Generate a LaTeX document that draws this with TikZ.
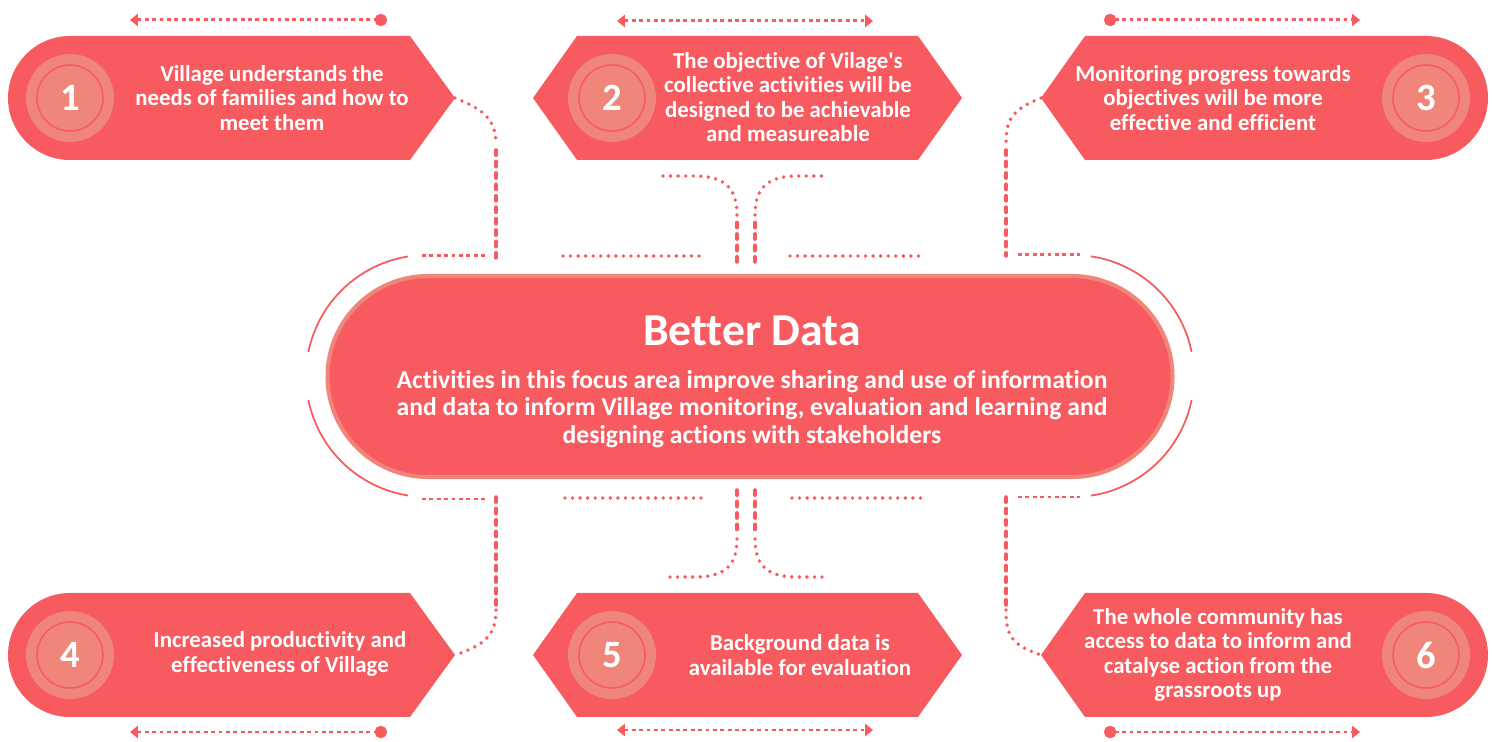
\documentclass[tikz,border=0pt]{standalone}
\usepackage{fontspec}
\setmainfont[Ligatures={NoCommon,TeXOff}]{Carlito}
\usetikzlibrary{arrows.meta}
\definecolor{boxred}{HTML}{F75A5F}
\definecolor{ringlight}{HTML}{F0867A}

\begin{document}
\begin{tikzpicture}[x=0.02cm,y=-0.02cm,
    txt/.style={text=white,font=\bfseries\fontsize{13}{14}\selectfont,align=center,inner sep=0pt},
    num/.style={text=white,font=\bfseries\fontsize{22}{22}\selectfont,inner sep=0pt},
    sqdots/.style={boxred,line width=1.7pt,dash pattern=on 2.2pt off 2pt},
    rnddots/.style={boxred,line width=2.2pt,line cap=round,dash pattern=on 0pt off 4.3pt},
    dashes/.style={boxred,line width=2pt,line cap=round,dash pattern=on 3pt off 3.5pt},
    toleft/.style={sqdots,{Triangle[length=4.5pt,width=7pt]}-{Circle[length=7pt]}},
    toright/.style={sqdots,{Circle[length=7pt]}-{Triangle[length=4.5pt,width=7pt]}},
    both/.style={sqdots,{Triangle[length=4.5pt,width=7pt]}-{Triangle[length=4.5pt,width=7pt]}},
    halo/.style={boxred,line width=1pt}]
\useasboundingbox (0,0) rectangle (1492,742);

% outcome boxes
\fill[boxred] (70,36) -- (410,36) -- (455,98) -- (410,160) -- (70,160) arc[start angle=90,end angle=270,radius=62] -- cycle;
\fill[boxred] (533,98) -- (577,36) -- (918,36) -- (962,98) -- (918,160) -- (577,160) -- cycle;
\fill[boxred] (1041,98) -- (1085,36) -- (1426,36) arc[start angle=270,end angle=450,radius=62] -- (1085,160) -- cycle;
\fill[boxred] (70,593) -- (410,593) -- (455,655) -- (410,717) -- (70,717) arc[start angle=90,end angle=270,radius=62] -- cycle;
\fill[boxred] (533,655) -- (577,593) -- (918,593) -- (962,655) -- (918,717) -- (577,717) -- cycle;
\fill[boxred] (1041,655) -- (1085,593) -- (1426,593) arc[start angle=270,end angle=450,radius=62] -- (1085,717) -- cycle;

\foreach \n/\cx/\cy in {1/70/98,2/612/98,3/1426/98,4/70/655,5/612/655,6/1426/655}{
    \fill[ringlight] (\cx,\cy) circle[radius=44];
    \draw[boxred,line width=0.9pt] (\cx,\cy) circle[radius=33];
    \node[num] (n\n) at (\cx,\cy) {\n};
}

\node[txt] (t1) at (272,98) {Village understands the\\needs of families and how to\\meet them};
\node[txt] (t2) at (788,97) {The objective of Vilage's\\collective activities will be\\designed to be achievable\\and measureable};
\node[txt] (t3) at (1213,98) {Monitoring progress towards\\objectives will be more\\effective and efficient};
\node[txt] (t4) at (280,654) {Increased productivity and\\effectiveness of Village};
\node[txt] (t5) at (800,655) {Background data is\\available for evaluation};
\node[txt] (t6) at (1218,655) {The whole community has\\access to data to inform and\\catalyse action from the\\grassroots up};

% centre
\path[fill=boxred,draw=ringlight,line width=2.3pt] (428,276) -- (1072,276) arc[start angle=270,end angle=450,radius=100.5] -- (428,477) arc[start angle=90,end angle=270,radius=100.5] -- cycle;
\node[text=white,font=\bfseries\fontsize{26}{26}\selectfont,inner sep=0pt] (core) at (752,331) {Better Data};
\node[txt,font=\bfseries\fontsize{14.6}{15.6}\selectfont] (desc) at (752,409) {Activities in this focus area improve sharing and use of information\\and data to inform Village monitoring, evaluation and learning and\\designing actions with stakeholders};

\draw[halo] (427,376) ++(261:121) arc[start angle=261,end angle=191.4,radius=121];
\draw[halo] (427,376) ++(168.6:121) arc[start angle=168.6,end angle=99,radius=121];
\draw[halo] (1073,376) ++(278.5:121) arc[start angle=278.5,end angle=348.6,radius=121];
\draw[halo] (1073,376) ++(11.4:121) arc[start angle=11.4,end angle=81.5,radius=121];

% arrows over and under the boxes
\coordinate (a1l) at (130,20);  \coordinate (a1r) at (387,20);
\coordinate (a2l) at (617,21);  \coordinate (a2r) at (873,21);
\coordinate (a3l) at (1104,20); \coordinate (a3r) at (1360,20);
\coordinate (a4l) at (130,732); \coordinate (a4r) at (387,732);
\coordinate (a5l) at (617,730); \coordinate (a5r) at (873,730);
\coordinate (a6l) at (1104,732);\coordinate (a6r) at (1360,732);
\draw[toleft] (a1l) -- (a1r);
\draw[both] (a2l) -- (a2r);
\draw[toright] (a3l) -- (a3r);
\draw[toleft] (a4l) -- (a4r);
\draw[both] (a5l) -- (a5r);
\draw[toright] (a6l) -- (a6r);

% links to the centre
\coordinate (p1) at (455,98);
\coordinate (p3) at (1041,98);
\coordinate (p4) at (455,655);
\coordinate (p6) at (1041,655);
\draw[rnddots] (p1) .. controls (485,110) and (496,120) .. (496,145);
\draw[dashes] (496,150) -- (496,258);
\draw[rnddots] (p3) .. controls (1011,110) and (1006,120) .. (1006,145);
\draw[dashes] (1006,150) -- (1006,256);
\draw[dashes] (496,497) -- (496,605);
\draw[rnddots] (496,610) .. controls (496,635) and (485,645) .. (p4);
\draw[dashes] (1006,497) -- (1006,605);
\draw[rnddots] (1006,610) .. controls (1006,635) and (1011,645) .. (p6);

\draw[sqdots] (422,256) -- (485,256);
\draw[sqdots] (1018,255) -- (1080,255);
\draw[sqdots] (422,499) -- (485,499);
\draw[sqdots] (1018,497) -- (1080,497);
\draw[rnddots] (563,256) -- (700,256);
\draw[rnddots] (790,256) -- (925,256);
\draw[rnddots] (565,498) -- (702,498);
\draw[rnddots] (792,498) -- (927,498);

\draw[dashes] (737,262) -- (737,222);
\draw[rnddots] (737,215) .. controls (737,186) and (722,176) .. (695,176) -- (663,176);
\draw[dashes] (755,262) -- (755,222);
\draw[rnddots] (755,215) .. controls (755,186) and (770,176) .. (797,176) -- (828,176);
\draw[dashes] (737,490) -- (737,532);
\draw[rnddots] (737,539) .. controls (737,568) and (722,577) .. (695,577) -- (665,577);
\draw[dashes] (755,490) -- (755,532);
\draw[rnddots] (755,539) .. controls (755,568) and (770,577) .. (797,577) -- (828,577);
\end{tikzpicture}
\end{document}
